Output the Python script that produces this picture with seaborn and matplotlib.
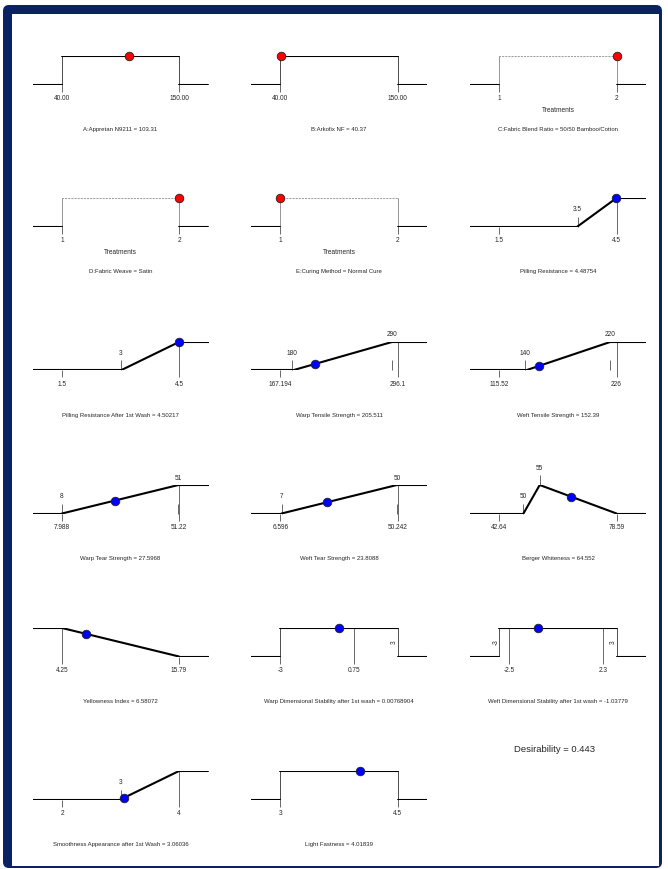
import numpy as np
import pandas as pd
import matplotlib
matplotlib.use("Agg")
import matplotlib.pyplot as plt
import seaborn as sns
from matplotlib import font_manager
from matplotlib.patches import FancyBboxPatch, Rectangle
from matplotlib.transforms import IdentityTransform

titles = [
    "A:Appretan N9211 = 103.31",
    "B:Arkofix NF = 40.37",
    "C:Fabric Blend Ratio = 50/50 Bamboo/Cotton",
    "D:Fabric Weave = Satin",
    "E:Curing Method = Normal Cure",
    "Pilling Resistance = 4.48754",
    "Pilling Resistance After 1st Wash = 4.50217",
    "Warp Tensile Strength = 205.511",
    "Weft Tensile Strength = 152.39",
    "Warp Tear Strength = 27.5968",
    "Weft Tear Strength = 23.8088",
    "Berger Whiteness = 64.552",
    "Yellowness Index = 6.58072",
    "Warp Dimensional Stability after 1st wash = 0.00768904",
    "Weft Dimensional Stability after 1st wash = -1.03779",
    "Smoothness Appearance after 1st Wash = 3.06036",
    "Light Fastness = 4.01839",
]
kinds = ["range", "range", "cat", "cat", "cat",
         "ramp", "ramp", "ramp", "ramp", "ramp", "ramp", "ramp", "ramp",
         "range", "range", "ramp", "range"]
spans = [(40, 150), (40, 150), (1, 2), (1, 2), (1, 2),
         (1.5, 4.5), (1.5, 4.5), (167.194, 296.1), (115.52, 226),
         (7.988, 51.22), (6.596, 50.242), (42.64, 78.59), (4.25, 15.79),
         (-3, 3), (-3, 3), (2, 4), (3, 4.5)]
curve_x = [[40, 40, 150, 150], [40, 40, 150, 150], [1, 1, 2, 2], [1, 1, 2, 2], [1, 1, 2, 2],
           [3.5, 4.5], [3, 4.5], [180, 290], [140, 220],
           [8, 51], [7, 50], [50, 55, 78.59], [4.25, 15.79],
           [-3, -3, 3, 3], [-3, -3, 3, 3], [3, 4], [3, 3, 4.5, 4.5]]
curve_y = [[0, 1, 1, 0], [0, 1, 1, 0], [0, 1, 1, 0], [0, 1, 1, 0], [0, 1, 1, 0],
           [0, 1], [0, 1], [0, 1], [0, 1],
           [0, 1], [0, 1], [0, 1, 0], [1, 0],
           [0, 1, 1, 0], [0, 1, 1, 0], [0, 1], [0, 1, 1, 0]]
dot_values = [103.31, 40.37, 2, 2, 1,
              4.48754, 4.50217, 205.511, 152.39,
              27.5968, 23.8088, 64.552, 6.58072,
              0.00768904, -1.03779, 3.06036, 4.01839]
below_ticks = [[40, 150], [40, 150], [1, 2], [1, 2], [1, 2],
               [1.5, 4.5], [1.5, 4.5], [167.194, 296.1], [115.52, 226],
               [7.988, 51.22], [6.596, 50.242], [42.64, 78.59], [4.25, 15.79],
               [-3, 0.75], [-2.5, 2.3], [2, 4], [3, 4.5]]
below_labels = [["40.00", "150.00"], ["40.00", "150.00"], ["1", "2"], ["1", "2"], ["1", "2"],
                ["1.5", "4.5"], ["1.5", "4.5"], ["167.194", "296.1"], ["115.52", "226"],
                ["7.988", "51.22"], ["6.596", "50.242"], ["42.64", "78.59"], ["4.25", "15.79"],
                ["-3", "0.75"], ["-2.5", "2.3"], ["2", "4"], ["3", "4.5"]]
above_ticks = [[], [], [], [], [],
               [3.5], [3], [180, 290], [140, 220],
               [8, 51], [7, 50], [50, 55], [],
               [], [], [3], []]
above_labels = [[], [], [], [], [],
                ["3.5"], ["3"], ["180", "290"], ["140", "220"],
                ["8", "51"], ["7", "50"], ["50", "55"], [],
                [], [], ["3"], []]
side_ticks = [[]] * 13 + [[3], [-3, 3], [], []]
side_labels = [[]] * 13 + [["3"], ["-3", "3"], [], []]
desirability_text = "Desirability = 0.443"

# ---- style ----
sns.set_style("white")
names = {f.name for f in font_manager.fontManager.ttflist}
narrow = "Liberation Sans Narrow" if "Liberation Sans Narrow" in names else "Liberation Sans"
plt.rcParams["font.family"] = [narrow, "DejaVu Sans"]

W, H = 668, 869
NAVY = "#0b2262"
fig = plt.figure(figsize=(W / 100, H / 100), dpi=100)
fig.patch.set_facecolor("white")

# navy frame around the page (kept behind the panels)
fig.patches.append(FancyBboxPatch((3, 1), 659, 863, boxstyle="round,pad=0,rounding_size=6",
                                  transform=IdentityTransform(), facecolor=NAVY,
                                  edgecolor="none", zorder=-10))
fig.patches.append(Rectangle((12, 3), 647, 852, transform=IdentityTransform(),
                             facecolor="white", edgecolor="none", zorder=-9))

col_left = [32.5, 251, 470]
row_top = [56, 198, 342, 485, 628, 771]
ax_w, ax_h = 176, 28.5
FS = 4.7      # tick labels
FS_T = 4.3    # panel titles
THIN = "#505050"


def px(d):
    # pixel distance -> axis fraction (ylim is 0..1 across ax_h pixels)
    return d / ax_h


for i, title in enumerate(titles):
    r, c = divmod(i, 3)
    ax = fig.add_axes([col_left[c] / W, 1 - (row_top[r] + ax_h) / H, ax_w / W, ax_h / H])
    ax.axis("off")
    ax.patch.set_alpha(0)
    lo, hi = spans[i]
    pad = (hi - lo) * 0.252
    ax.set_xlim(lo - pad, hi + pad)
    ax.set_ylim(0, 1)

    cx, cy = curve_x[i], curve_y[i]
    fx = [lo - pad] + cx + [hi + pad]
    fy = [cy[0]] + cy + [cy[-1]]

    rows_thick, rows_gray = [], []
    for k in range(len(fx) - 1):
        if fx[k] == fx[k + 1]:
            ax.vlines(fx[k], min(fy[k], fy[k + 1]), max(fy[k], fy[k + 1]),
                      color="#9a9a9a" if kinds[i] == "cat" else THIN, lw=0.7, zorder=2)
            continue
        target = rows_gray if (kinds[i] == "cat" and fy[k] == 1 and fy[k + 1] == 1) else rows_thick
        target.append((k, fx[k], fy[k]))
        target.append((k, fx[k + 1], fy[k + 1]))

    seg = pd.DataFrame(rows_thick, columns=["seg", "x", "y"])
    sns.lineplot(data=seg, x="x", y="y", units="seg", estimator=None, sort=False,
                 color="black", lw=1.5, ax=ax, legend=False, zorder=3)
    if rows_gray:
        gseg = pd.DataFrame(rows_gray, columns=["seg", "x", "y"])
        sns.lineplot(data=gseg, x="x", y="y", units="seg", estimator=None, sort=False,
                     color="#a0a0a0", lw=1.5, ax=ax, legend=False, zorder=3,
                     linestyle=(0, (1, 0.5)))

    def level(v):
        if kinds[i] == "ramp":
            return float(np.interp(v, cx, cy))
        return 1.0 if lo <= v <= hi else 0.0

    # ticks with labels below the ramp
    for v, lab in zip(below_ticks[i], below_labels[i]):
        ax.vlines(v, -px(7), level(v), color=THIN, lw=0.6, zorder=1, clip_on=False)
        ax.text(v, -px(14), lab, ha="center", va="center", fontsize=FS, clip_on=False)

    # goal limits labelled above
    for v, lab in zip(above_ticks[i], above_labels[i]):
        lev = level(v)
        if lev < 0.5:
            ax.vlines(v, 0, px(10), color=THIN, lw=0.6, clip_on=False)
            ax.text(v, px(17), lab, ha="center", va="center", fontsize=FS, clip_on=False)
        elif v != cx[-1] and v != cx[0]:
            ax.vlines(v, 1, 1 + px(10), color=THIN, lw=0.6, clip_on=False)
            ax.text(v, 1 + px(17), lab, ha="center", va="center", fontsize=FS, clip_on=False)
        else:
            ax.vlines(v, 0, px(10), color=THIN, lw=0.6, clip_on=False)
            ax.text(v, 1 + px(7), lab, ha="center", va="center", fontsize=FS, clip_on=False)

    # rotated limit labels beside a step
    for v, lab in zip(side_ticks[i], side_labels[i]):
        ax.annotate(lab, xy=(v, 0.5), xytext=(-2.5, 0), textcoords="offset points",
                    rotation=90, ha="center", va="center", fontsize=FS, annotation_clip=False)

    if kinds[i] == "cat":
        ax.text((lo + hi) / 2, -px(26), "Treatments", ha="center", va="center",
                fontsize=FS, clip_on=False)

    dv = dot_values[i]
    dots = pd.DataFrame({"x": [dv], "y": [level(dv)]})
    sns.scatterplot(data=dots, x="x", y="y", ax=ax, s=38, zorder=5, clip_on=False,
                    color="#ff0000" if i < 5 else "#0000ff", edgecolor="#222222",
                    linewidth=0.6, legend=False)

    ax.text(0.5, -px(45), title, transform=ax.transAxes, ha="center", va="center",
            fontsize=FS_T, clip_on=False)
    ax.set_xlabel("")
    ax.set_ylabel("")

fig.text(555 / W, 1 - 750 / H, desirability_text, ha="center", va="center", fontsize=6.8)

fig.savefig("out.png", dpi=100)
